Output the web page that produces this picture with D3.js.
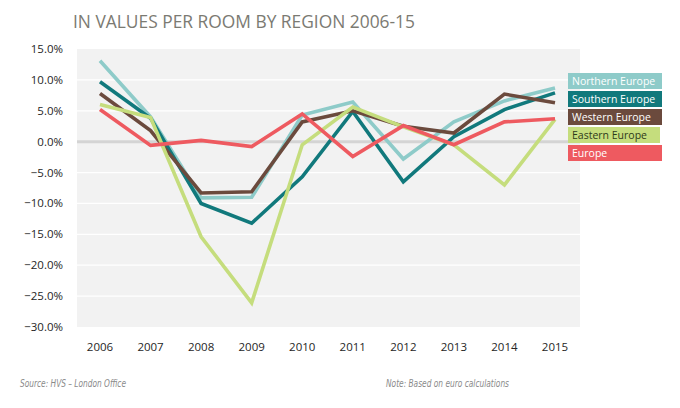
<!DOCTYPE html>
<meta charset="utf-8">
<html>
<head>
  <script src="https://d3js.org/d3.v7.min.js"></script>
  <style>
    body { margin: 0; background: #fff; }
    text { font-family: "Open Sans", sans-serif; }
    .foot { font-family: "Liberation Sans Narrow", "DejaVu Sans Condensed", "Open Sans", sans-serif; }
  </style>
</head>
<body>
  <svg id="svg" width="680" height="408"></svg>
  <script>
    const years = ["2006", "2007", "2008", "2009", "2010", "2011", "2012", "2013", "2014", "2015"];
    const yTicks = [15, 10, 5, 0, -5, -10, -15, -20, -25, -30];

    const northern = [13.1, 4.0, -9.1, -9.0, 4.3, 6.4, -2.8, 3.2, 6.6, 8.7];
    const southern = [9.7, 3.8, -10.0, -13.2, -5.7, 4.9, -6.5, 0.8, 5.2, 7.9];
    const western = [7.8, 1.8, -8.3, -8.1, 3.2, 5.0, 2.5, 1.4, 7.7, 6.3];
    const eastern = [6.0, 3.9, -15.4, -26.1, -0.5, 5.6, 2.4, -0.5, -7.0, 3.6];
    const europe = [5.2, -0.6, 0.2, -0.8, 4.5, -2.4, 2.6, -0.5, 3.2, 3.7];

    const seriesNames = ["Northern Europe", "Southern Europe", "Western Europe", "Eastern Europe", "Europe"];
    const seriesValues = [northern, southern, western, eastern, europe];
    const seriesColors = ["#8ecbc9", "#11797c", "#6b4a3d", "#c5dd7d", "#ee5a60"];
    const labelColors = ["#fff", "#fff", "#fff", "#2f3a1a", "#fff"];

    const svg = d3.select("#svg");

    const x = d3.scalePoint().domain(years).range([100, 555]);
    const y = d3.scaleLinear().domain([-30, 15]).range([327, 49]);

    // plot background
    svg.append("rect")
      .attr("x", 77).attr("y", y(15))
      .attr("width", 580 - 77).attr("height", y(-30) - y(15))
      .attr("fill", "#f2f2f2");

    // gridlines
    svg.append("g").selectAll("line")
      .data(yTicks.filter(d => d !== 0 && d !== 15 && d !== -30))
      .enter().append("line")
      .attr("x1", 77).attr("x2", 580)
      .attr("y1", d => y(d)).attr("y2", d => y(d))
      .attr("stroke", "#fff").attr("stroke-width", 1.2);

    // zero line
    svg.append("line")
      .attr("x1", 77).attr("x2", 580)
      .attr("y1", y(0)).attr("y2", y(0))
      .attr("stroke", "#d4d4d4").attr("stroke-width", 3);

    // y labels
    svg.append("g").selectAll("text")
      .data(yTicks)
      .enter().append("text")
      .attr("x", 63).attr("y", d => y(d) + 4)
      .attr("text-anchor", "end")
      .attr("font-size", 11.5)
      .attr("fill", "#262626")
      .text(d => d3.format(".1f")(d) + "%");

    // x labels
    svg.append("g").selectAll("text")
      .data(years)
      .enter().append("text")
      .attr("x", d => x(d)).attr("y", 351)
      .attr("text-anchor", "middle")
      .attr("font-size", 11.5)
      .attr("fill", "#262626")
      .text(d => d);

    const line = d3.line()
      .x((d, i) => x(years[i]))
      .y(d => y(d));

    svg.append("g").selectAll("path")
      .data(seriesValues)
      .enter().append("path")
      .attr("d", line)
      .attr("fill", "none")
      .attr("stroke", (d, i) => seriesColors[i])
      .attr("stroke-width", 3.6)
      .attr("stroke-linejoin", "miter");

    // legend
    const legendTops = [73, 91, 109, 127, 145];
    const legend = svg.append("g").selectAll("g")
      .data(seriesNames)
      .enter().append("g")
      .attr("transform", (d, i) => `translate(568,${legendTops[i]})`);
    legend.append("rect")
      .attr("width", (d, i) => i === 3 ? 92 : 94).attr("height", 16)
      .attr("fill", (d, i) => seriesColors[i]);
    legend.append("text")
      .attr("x", 4).attr("y", 12)
      .attr("font-size", 10.5)
      .attr("fill", (d, i) => labelColors[i])
      .text(d => d);

    // title
    svg.append("text")
      .attr("x", 73).attr("y", 28)
      .attr("font-size", 19)
      .attr("textLength", 342)
      .attr("lengthAdjust", "spacingAndGlyphs")
      .attr("fill", "#7b7a72")
      .text("IN VALUES PER ROOM BY REGION 2006-15");

    // footer
    svg.append("text")
      .attr("class", "foot")
      .attr("x", 20).attr("y", 387)
      .attr("font-size", 11)
      .attr("font-style", "italic")
      .attr("textLength", 106)
      .attr("lengthAdjust", "spacingAndGlyphs")
      .attr("fill", "#8a8a8a")
      .text("Source: HVS \u2013 London Office");
    svg.append("text")
      .attr("class", "foot")
      .attr("x", 386).attr("y", 387)
      .attr("font-size", 11)
      .attr("font-style", "italic")
      .attr("textLength", 123)
      .attr("lengthAdjust", "spacingAndGlyphs")
      .attr("fill", "#8a8a8a")
      .text("Note: Based on euro calculations");
  </script>
</body>
</html>
